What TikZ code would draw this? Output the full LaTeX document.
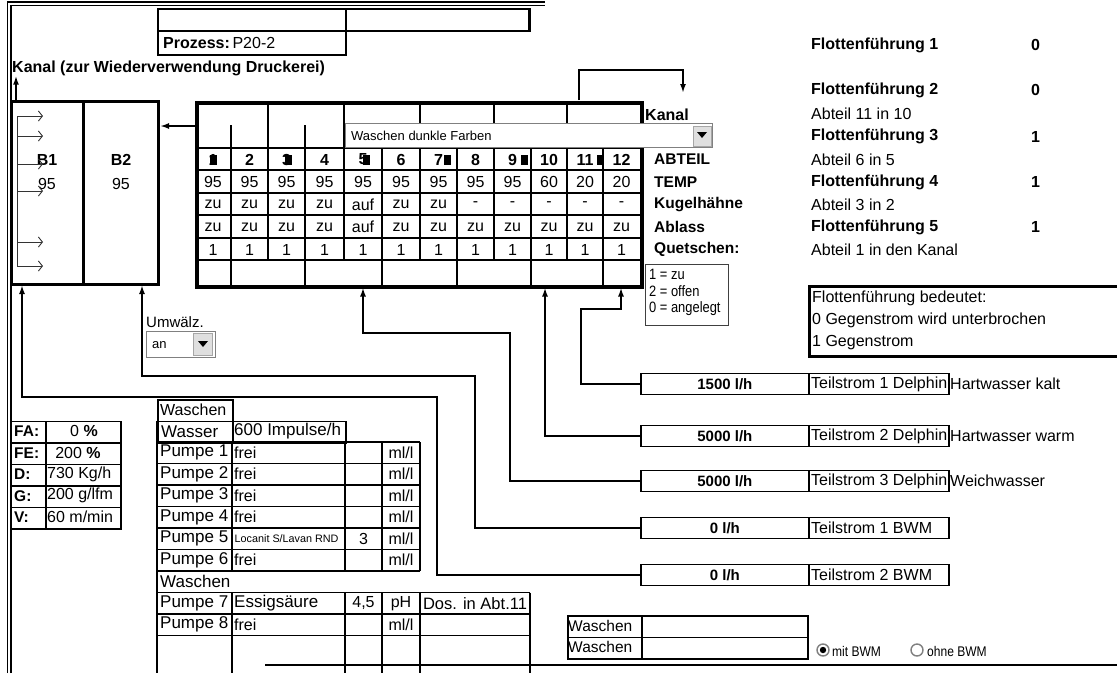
\documentclass[tikz,border=0pt]{standalone}
\usepackage{fontspec}
\setmainfont{Liberation Sans}
\newfontfamily\narrowfont[FakeStretch=0.86]{Liberation Sans}
\usetikzlibrary{arrows.meta,calc}
\newcommand\fsz[1]{\fontsize{#1}{#1}\selectfont}
\begin{document}
\begin{tikzpicture}[x=1pt,y=-1pt,
  txt/.style={inner sep=0pt, font=\fsz{16}},
  lt/.style={txt, anchor=west},
  bt/.style={txt, anchor=west, font=\fsz{16}\bfseries},
  cellt/.style={inner sep=0pt, font=\fsz{16}},
  cellb/.style={inner sep=0pt, font=\fsz{16}\bfseries},
  box/.style={draw, inner sep=0pt, anchor=north west},
  thickln/.style={line width=3pt},
  medln/.style={line width=1.8pt},
  gridln/.style={line width=1.6pt},
  thinln/.style={line width=0.9pt},
  conn/.style={line width=2pt},
  arr/.style={-{Latex[length=9pt,width=6pt]}},
  barb/.style={-{Straight Barb[length=4pt,width=10pt]}},
]
\useasboundingbox[fill=white] (0,0) rectangle (1117,673);

% ---------- outer frame ----------
\draw[line width=1.3pt] (7.5,673) -- (7.5,2) -- (545,2);
\draw[line width=1.3pt] (11,673) -- (11,5.5) -- (545,5.5);
\draw[medln] (265,665) -- (1117,665);

% ---------- top boxes ----------
\node[box, medln, minimum width=188, minimum height=22] (topa) at (157,8) {};
\node[box, medln, minimum width=183, minimum height=22] (topb) at (345,8) {};
\draw[thickln] (topb.north east) -- (topb.south east);
\node[box, medln, minimum width=188, minimum height=24] (proz) at (157,30) {};
\node[lt] (prozt) at (163,43) {{\bfseries Prozess:}\,P20-2};

\node[bt] (kanalt) at (12,68) {Kanal (zur Wiederverwendung Druckerei)};
\coordinate (kanalsrc) at (16,100);
\draw[conn,arr] (kanalsrc) -- (kanalsrc |- kanalt.south);

% ---------- B box ----------
\node[box, thickln, minimum width=72, minimum height=183] (b1) at (10,100) {};
\node[box, thickln, minimum width=75, minimum height=183] (b2) at (82,100) {};
\node[cellb, font=\fsz{16}\bfseries] (b1t) at (47,160) {B1};
\node[cellt, font=\fsz{16}] (b1v) at (47,184) {95};
\node[cellb, font=\fsz{16}\bfseries] (b2t) at (121,160) {B2};
\node[cellt, font=\fsz{16}] (b2v) at (121,184) {95};
\draw[thinln, black!80] (17,116) -- (17,266);
\foreach \y in {116,136,164,191,242,266}
  \draw[thinln, black!80, barb] (17,\y) -- (43,\y);

% ---------- main table ----------
\node[box, line width=4pt, minimum width=445, minimum height=184] (tab) at (195,101) {};
\foreach \y in {148,170,193,215,238,260}
  \draw[gridln] (195,\y) -- (640,\y);
\foreach \x in {231,268,305,344,382,420,457,494,531,567,603}
  \draw[gridln] (\x,148) -- (\x,260);
\foreach \x in {231,305,382,457,531,603}
  \draw[gridln] (\x,260) -- (\x,285);
\foreach \x in {268,344}
  \draw[gridln] (\x,101) -- (\x,148);
\foreach \x in {420,494,567}
  \draw[gridln] (\x,101) -- (\x,123);
\foreach \x in {231,305}
  \draw[gridln] (\x,125) -- (\x,148);

% combobox
\node[box, draw=gray, line width=1pt, fill=white, minimum width=367, minimum height=24] (combo) at (345,123) {};
\node[lt, font=\fsz{13}] (combot) at (351,136) {Waschen dunkle Farben};
\node[box, draw=gray!70, fill=gray!25, line width=0.8pt, minimum width=18, minimum height=20] (combobtn) at (693,125.5) {};
\fill (697,132) -- (707,132) -- (702,138) -- cycle;

% header row
\foreach \x/\n [count=\i] in {213/1,249.5/2,286.5/3,324.5/4,363/5,401/6,438.5/7,475.5/8,512.5/9,549/10,585/11,621.5/12}
  \node[cellb] (h\i) at (\x,159.5) {\n};
\foreach \x in {209.5,284.5,362.5,444,521,597}
  \fill (\x,154.5) rectangle +(7,10);

% data rows
\foreach \x/\t/\k/\a [count=\i] in {213/95/zu/zu,249.5/95/zu/zu,286.5/95/zu/zu,324.5/95/zu/zu,363/95/auf/auf,401/95/zu/zu,438.5/95/zu/zu,475.5/95/-/zu,512.5/95/-/zu,549/60/-/zu,585/20/-/zu,621.5/20/-/zu}
{
  \node[cellt] (t\i) at (\x,182) {\t};
  \node[cellt] (k\i) at (\x,204.5) {\k};
  \node[cellt] (a\i) at (\x,227) {\a};
  \node[cellt] (q\i) at (\x,249.5) {1};
}

% arrow table -> B2
\coordinate (tabw) at (195,126);
\draw[conn,arr] (tabw) -- (tabw -| b2.east);
% arrow to Kanal
\coordinate (kstart) at (579,100);
\coordinate (kend) at (683,93);
\draw[conn,arr] (kstart) |- (683,70) -- (kend);

% right-side labels
\node[bt] (kanal) at (645,115) {Kanal};
\node[bt, font=\fsz{15.5}\bfseries] (abteil) at (654,159.5) {ABTEIL};
\node[bt, font=\fsz{15.5}\bfseries] (temp) at (654,182) {TEMP};
\node[bt, font=\fsz{15.5}\bfseries] (kugel) at (654,204.5) {Kugelhähne};
\node[bt, font=\fsz{15.5}\bfseries] (ablass) at (654,227) {Ablass};
\node[bt, font=\fsz{15.5}\bfseries] (quet) at (654,249.5) {Quetschen:};

\node[box, draw=black!75, line width=0.8pt, minimum width=83, minimum height=61] (legend) at (645,264) {};
\node[lt, font=\narrowfont\fsz{15}] (lg1) at (649,274) {1 = zu};
\node[lt, font=\narrowfont\fsz{15}] (lg2) at (649,291.5) {2 = offen};
\node[lt, font=\narrowfont\fsz{15}] (lg3) at (649,309) {0 = angelegt};

% Flottenfuehrung column
\node[bt] (ff1) at (811,45) {Flottenführung 1};
\node[bt] (ff1v) at (1031,45) {0};
\node[bt] (ff2) at (811,90) {Flottenführung 2};
\node[bt] (ff2v) at (1031,90) {0};
\node[lt] (ab11) at (811,114) {Abteil 11 in 10};
\node[bt] (ff3) at (811,136.5) {Flottenführung 3};
\node[bt] (ff3v) at (1031,136.5) {1};
\node[lt] (ab6) at (811,159.5) {Abteil 6 in 5};
\node[bt] (ff4) at (811,182) {Flottenführung 4};
\node[bt] (ff4v) at (1031,182) {1};
\node[lt] (ab3) at (811,204.5) {Abteil 3 in 2};
\node[bt] (ff5) at (811,227) {Flottenführung 5};
\node[bt] (ff5v) at (1031,227) {1};
\node[lt] (ab1) at (811,249.5) {Abteil 1 in den Kanal};

\node[box, thickln, minimum width=312, minimum height=70] (fbox) at (808,285) {};
\node[lt] (fb1) at (812,298) {Flottenführung bedeutet:};
\node[lt] (fb2) at (812,320.5) {0 Gegenstrom wird unterbrochen};
\node[lt] (fb3) at (812,343) {1 Gegenstrom};

% ---------- Umwaelz ----------
\node[lt, font=\fsz{15}] (umw) at (146,322) {Umwälz.};
\node[box, draw=gray, line width=1pt, minimum width=69, minimum height=26] (umwbox) at (146,331) {};
\node[lt, font=\fsz{13}] (umwt) at (152,345) {an};
\node[box, draw=gray!70, fill=gray!25, line width=0.8pt, minimum width=19, minimum height=22] (umwbtn) at (193,333) {};
\fill (198,341) -- (208,341) -- (203,347) -- cycle;

% ---------- Teilstrom boxes ----------
\foreach \y/\v/\l/\e [count=\i] in {384/{1500 l/h}/{Teilstrom 1 Delphin}/{Hartwasser kalt},436/{5000 l/h}/{Teilstrom 2 Delphin}/{Hartwasser warm},481/{5000 l/h}/{Teilstrom 3 Delphin}/{Weichwasser},528/{0 l/h}/{Teilstrom 1 BWM}/{},575/{0 l/h}/{Teilstrom 2 BWM}/{}}
{
  \node[draw, medln, inner sep=0pt, anchor=west, minimum width=168, minimum height=21, font=\fsz{15}\bfseries] (ts\i v) at (640,\y) {\v};
  \node[draw, medln, inner sep=0pt, anchor=west, minimum width=140, minimum height=21] (ts\i l) at (808,\y) {};
  \node[lt] (ts\i t) at (811,\y) {\l};
  \node[lt] (ts\i e) at (950,\y) {\e};
}

% connectors from Teilstrom boxes
\coordinate (p5) at (621,287.5);
\coordinate (p4) at (545,287.5);
\coordinate (p3) at (363,287.5);
\coordinate (p2) at (142,285);
\coordinate (p1) at (22,285);
\draw[conn,arr] (ts1v.west) -| (581,309) -| (p5);
\draw[conn,arr] (ts2v.west) -| (p4);
\draw[conn,arr] (ts3v.west) -| (510,333) -| (p3);
\draw[conn,arr] (ts4v.west) -| (475,376) -| (p2);
\draw[conn,arr] (ts5v.west) -| (437,397) -| (p1);

% ---------- FA table ----------
\foreach \y/\a [count=\i] in {420.5/FA:,442/FE:,463.5/D:,485/G:,506.5/V:}
{
  \node[box, gridln, minimum width=35, minimum height=21.5] (fa\i a) at (10,\y) {};
  \node[box, gridln, minimum width=75, minimum height=21.5] (fa\i b) at (45,\y) {};
  \node[bt, font=\fsz{15.5}\bfseries] (fa\i t) at (14,\y+10.75) {\a};
}
\node[txt, font=\fsz{16}] (fa1v) at (84,431.25) {0 \textbf{\%}};
\node[txt, font=\fsz{16}] (fa2v) at (78,452.75) {200 \textbf{\%}};
\node[lt, font=\fsz{16}] (fa3v) at (47,474.25) {730 Kg/h};
\node[lt, font=\fsz{16}] (fa4v) at (47,495.75) {200 g/lfm};
\node[lt, font=\fsz{16}] (fa5v) at (47,517.25) {60 m/min};

% ---------- pump table ----------
\node[box, gridln, minimum width=75, minimum height=21.5] (wasch1) at (157,399) {};
\node[lt] (wasch1t) at (160,409.75) {Waschen};
\node[box, gridln, minimum width=75, minimum height=21.5] (wass) at (157,420.5) {};
\node[box, gridln, minimum width=113, minimum height=21.5] (wassv) at (232,420.5) {};
\node[lt, font=\fsz{17}] (wasst) at (161,431.25) {Wasser};
\node[lt, font=\fsz{17}] (wassvt) at (234,431.25) {600 Impulse/h};
\foreach \y in {442,463.5,485,506.5,528,549.5,571}
  \draw[gridln] (157,\y) -- (420,\y);
\foreach \x in {232,345,382,420}
  \draw[gridln] (\x,442) -- (\x,571);
\draw[gridln] (157,420.5) -- (157,673);
\foreach \n/\y/\f/\m [count=\i] in {1/452.75/frei/,2/474.25/frei/,3/495.75/frei/,4/517.25/frei/,5/538.75//3,6/560.25/frei/}
{
  \node[lt, font=\fsz{17}] (pu\i) at (160,\y) {Pumpe \n};
  \node[lt, font=\fsz{16}] (pf\i) at (234,\y) {\f};
  \node[cellt] (pm\i) at (363.5,\y) {\m};
  \node[cellt] (pu\i u) at (401,\y) {ml/l};
}
\node[lt, font=\fsz{10.8}] (loc) at (234.5,538.75) {Locanit S/Lavan RND};
\node[lt, font=\fsz{17}] (wasch2t) at (160,581.75) {Waschen};
\foreach \y in {592.5,614,635.5}
  \draw[gridln] (157,\y) -- (530,\y);
\foreach \x in {232,345,382,420,530}
  \draw[gridln] (\x,592.5) -- (\x,673);
\node[lt, font=\fsz{17}] (pu7) at (160,603.25) {Pumpe 7};
\node[lt, font=\fsz{17}] (pf7) at (234,603.25) {Essigsäure};
\node[cellt] (pm7) at (363.5,603.25) {4,5};
\node[cellt] (pu7u) at (401,603.25) {pH};
\node[cellt, font=\fsz{16.5}] (dos) at (475,603.25) {Dos. in Abt.11};
\node[lt, font=\fsz{17}] (pu8) at (160,624.75) {Pumpe 8};
\node[lt, font=\fsz{16}] (pf8) at (234,624.75) {frei};
\node[cellt] (pu8u) at (401,624.75) {ml/l};

% ---------- Waschen boxes bottom right ----------
\node[box, gridln, minimum width=74, minimum height=21.5] (w3a) at (567,615) {};
\node[box, gridln, minimum width=166, minimum height=21.5] (w3b) at (641,615) {};
\node[box, gridln, minimum width=74, minimum height=21.5] (w4a) at (567,636.5) {};
\node[box, gridln, minimum width=166, minimum height=21.5] (w4b) at (641,636.5) {};
\node[lt, font=\fsz{15.5}] (w3t) at (568,625.75) {Waschen};
\node[lt, font=\fsz{15.5}] (w4t) at (568,647.25) {Waschen};

% radio buttons
\node[circle, draw=gray, line width=1.4pt, minimum size=12, inner sep=0] (r1) at (823,650) {};
\fill (r1.center) circle (3.2);
\node[lt, font=\narrowfont\fsz{14}] (r1t) at (832,651) {mit BWM};
\node[circle, draw=gray, line width=1.4pt, minimum size=12, inner sep=0] (r2) at (917,650) {};
\node[lt, font=\narrowfont\fsz{14}] (r2t) at (927,651) {ohne BWM};
\end{tikzpicture}
\end{document}
